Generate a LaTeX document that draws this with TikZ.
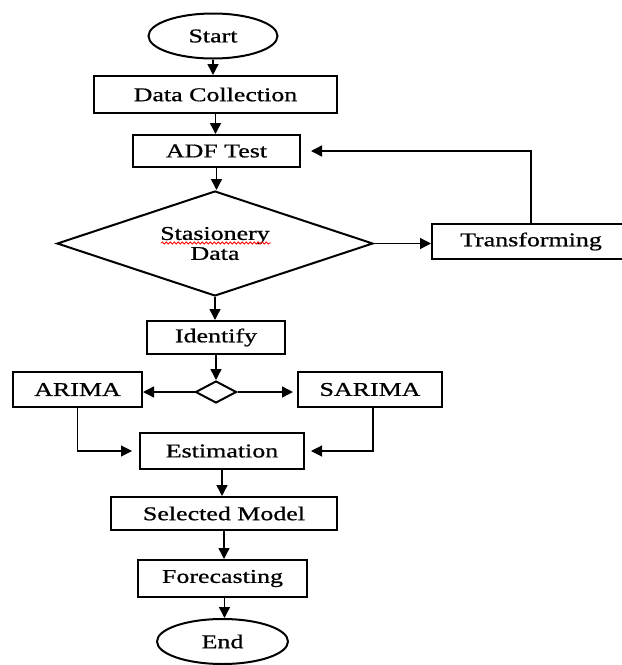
\documentclass[tikz,border=0pt]{standalone}
\usepackage{fontspec}
\setmainfont{Liberation Serif}[FakeStretch=1.33, FakeBold=0.8]
\usetikzlibrary{shapes.geometric,arrows.meta,decorations.pathmorphing}
\tikzset{
  box/.style={draw, line width=2pt, rectangle, inner sep=0pt, font=\fontsize{19.5}{22}\selectfont},
  term/.style={draw, line width=2pt, ellipse, inner sep=0pt, font=\fontsize{19.5}{22}\selectfont},
  dec/.style={draw, line width=2pt, diamond, inner sep=0pt, font=\fontsize{19.5}{22}\selectfont, align=center},
  arr/.style={line width=1.4pt, -{Triangle[length=11pt,width=11pt]}},
}
\begin{document}
\begin{tikzpicture}[x=1pt,y=-1pt]
\useasboundingbox (0,0) rectangle (622,665);
\clip (0,0) rectangle (622,665);
\node[term, minimum width=129pt, minimum height=45pt] (start) at (213,36) {Start};
\node[box, minimum width=243pt, minimum height=37pt] (datac) at (215.5,94.5) {Data Collection};
\node[box, minimum width=167pt, minimum height=32pt] (adf) at (216.5,151) {ADF Test};
\node[dec, minimum width=316pt, minimum height=105pt, aspect=3] (dia) at (215,243.5) {\raisebox{-3pt}{\shortstack{Stasionery\\Data}}};
\node[box, minimum width=198pt, minimum height=35pt] (trans) at (531,241.5) {Transforming};
\node[box, minimum width=138pt, minimum height=33pt] (ident) at (216,337.5) {Identify};
\node[dec, minimum width=41pt, minimum height=22pt] (sd) at (216,392) {};
\node[box, minimum width=129pt, minimum height=35pt] (arima) at (77.5,389.5) {ARIMA};
\node[box, minimum width=144pt, minimum height=35pt] (sarima) at (370,389.5) {SARIMA};
\node[box, minimum width=164pt, minimum height=36pt] (est) at (222,451) {Estimation};
\node[box, minimum width=226pt, minimum height=33pt] (sel) at (224,513.5) {Selected Model};
\node[box, minimum width=169pt, minimum height=37pt] (fore) at (222.5,578.5) {Forecasting};
\node[term, minimum width=131pt, minimum height=45pt] (end) at (222.5,641.5) {End};
% red spell-check underline
\draw[red, line width=0.8pt, decorate, decoration={snake, amplitude=1pt, segment length=4pt}] (161,243) -- (271,243);
% connectors
\draw[arr] (start) -- (start |- datac.north);
\draw[arr] (datac) -- (datac |- adf.north);
\draw[arr] (adf) -- (adf |- dia.north);
\draw[arr] (dia.south) -- (dia.south |- ident.north);
\draw[arr] (ident) -- (sd.north);
\draw[arr] (dia.east) -- (dia.east -| trans.west);
\draw[arr, shorten >=10pt] (trans.north) |- (adf.east);
\draw[arr] (sd.west) -- (sd.west -| arima.east);
\draw[arr, shorten >=4pt] (sd.east) -- (sd.east -| sarima.west);
\draw[arr, line width=1.1pt, shorten >=7pt] (arima.south) |- (est.west);
\draw[arr, line width=1.1pt, shorten >=6pt] ([xshift=3pt]sarima.south) |- (est.east);
\draw[arr] (est) -- (est |- sel.north);
\draw[arr] (sel) -- (sel |- fore.north);
\draw[arr] ([xshift=2pt]fore.south) -- ([xshift=2pt]fore.south |- end.north);
\end{tikzpicture}
\end{document}
